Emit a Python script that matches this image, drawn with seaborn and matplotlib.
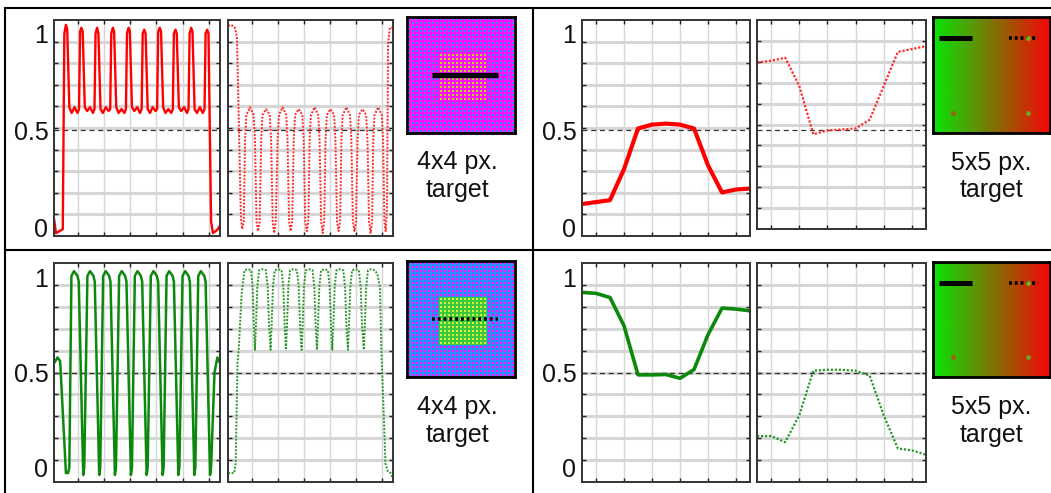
import numpy as np
import seaborn as sns
import matplotlib.pyplot as plt
from matplotlib.lines import Line2D
from matplotlib.colors import to_rgb

sns.set_style("white")
plt.rcParams["font.family"] = ["Liberation Sans", "DejaVu Sans"]

# ---- 4x4 px target, sampled along the line (x = sample position) ----
# top-left, solid sampling line (red)
tl_solid_x = [1.0, 1.7, 3.0, 4.3,
              4.9, 5.5, 6.0, 6.8, 7.7, 8.8, 9.9, 10.5,
              10.9, 11.4, 11.9, 12.7, 13.6, 14.7, 15.8, 16.4,
              16.8, 17.4, 17.9, 18.7, 19.6, 20.7, 21.8, 22.4,
              22.8, 23.4, 23.9, 24.7, 25.6, 26.7, 27.8, 28.4,
              28.8, 29.4, 29.9, 30.7, 31.6, 32.7, 33.8, 34.4,
              34.8, 35.4, 35.9, 36.7, 37.6, 38.6, 39.7, 40.3,
              40.7, 41.3, 41.8, 42.6, 43.5, 44.6, 45.7, 46.3,
              46.7, 47.3, 47.8, 48.6, 49.5, 50.6, 51.7, 52.3,
              52.7, 53.3, 53.8, 54.6, 55.5, 56.6, 57.7, 58.4,
              58.8, 59.4, 59.9, 60.9, 61.6, 62.6, 63.5, 64.3]
tl_solid_y = [0.04, -0.03, -0.02, -0.01,
              1.00, 1.045, 1.02, 0.62, 0.59, 0.62, 0.59, 0.61,
              1.01, 1.03, 1.01, 0.62, 0.60, 0.62, 0.59, 0.61,
              1.00, 1.03, 1.00, 0.61, 0.59, 0.62, 0.60, 0.61,
              1.00, 1.03, 1.01, 0.62, 0.59, 0.61, 0.59, 0.61,
              1.00, 1.03, 1.01, 0.62, 0.60, 0.62, 0.59, 0.61,
              1.00, 1.02, 1.00, 0.61, 0.59, 0.62, 0.60, 0.61,
              1.01, 1.03, 1.01, 0.62, 0.59, 0.61, 0.59, 0.61,
              1.00, 1.02, 1.00, 0.62, 0.60, 0.62, 0.59, 0.61,
              1.00, 1.03, 1.01, 0.61, 0.59, 0.62, 0.59, 0.61,
              1.00, 1.02, 1.00, 0.03, -0.03, -0.02, -0.01, 0.01]

# top-left, dotted sampling line (red)
tl_dot_x = [1.0, 2.2, 3.6, 4.4, 5.9, 6.4, 7.0,
            7.5, 8.0, 9.4, 10.8, 11.3, 11.9, 12.5, 13.1,
            13.7, 14.2, 15.6, 17.0, 17.5, 18.1, 18.7, 19.3,
            20.0, 20.5, 21.9, 23.3, 23.8, 24.4, 25.0, 25.6,
            26.2, 26.7, 28.1, 29.5, 30.0, 30.6, 31.2, 31.8,
            32.3, 32.8, 34.2, 35.6, 36.1, 36.7, 37.3, 37.9,
            38.4, 38.9, 40.3, 41.7, 42.2, 42.8, 43.4, 44.0,
            44.5, 45.0, 46.4, 47.8, 48.3, 48.9, 49.5, 50.1,
            50.7, 51.2, 52.6, 54.0, 54.5, 55.1, 55.7, 56.3,
            56.7, 57.2, 58.6, 60.0, 60.5, 61.0, 61.5, 62.0, 62.4, 63.1, 64.3]
tl_dot_y = [1.04, 1.045, 1.03, 0.98, 0.05, -0.01, 0.03,
            0.45, 0.58, 0.62, 0.58, 0.45, 0.03, -0.02, 0.03,
            0.45, 0.58, 0.61, 0.58, 0.45, 0.03, -0.03, 0.03,
            0.45, 0.58, 0.62, 0.58, 0.45, 0.03, -0.02, 0.03,
            0.45, 0.58, 0.61, 0.58, 0.45, 0.03, -0.02, 0.03,
            0.45, 0.58, 0.62, 0.58, 0.45, 0.03, -0.03, 0.03,
            0.45, 0.58, 0.61, 0.58, 0.45, 0.03, -0.02, 0.03,
            0.45, 0.58, 0.62, 0.58, 0.45, 0.03, -0.02, 0.03,
            0.45, 0.58, 0.61, 0.58, 0.45, 0.03, -0.03, 0.03,
            0.45, 0.58, 0.62, 0.58, 0.45, 0.03, -0.02, 0.10, 0.95, 1.03, 1.03]

# bottom-left, solid sampling line (green)
bl_solid_x = [1.0, 2.3, 3.3, 5.5, 6.3, 6.8,
              7.6, 8.6, 9.9, 10.4, 12.1, 12.5,
              13.7, 14.7, 16.0, 16.5, 18.2, 18.6,
              19.7, 20.7, 22.0, 22.5, 24.2, 24.6,
              25.8, 26.8, 28.1, 28.6, 30.3, 30.7,
              31.8, 32.8, 34.1, 34.6, 36.3, 36.7,
              37.9, 38.9, 40.2, 40.7, 42.4, 42.8,
              43.9, 44.9, 46.2, 46.7, 48.4, 48.8,
              50.0, 51.0, 52.3, 52.8, 54.5, 54.9,
              56.0, 57.0, 58.3, 58.8, 60.5, 60.9,
              62.2, 63.3, 64.3]
bl_solid_y = [0.55, 0.58, 0.56, -0.03, -0.03, 0.0,
              1.01, 1.035, 1.01, 0.98, -0.04, 0.0,
              1.01, 1.035, 1.01, 0.98, -0.04, 0.0,
              1.01, 1.035, 1.01, 0.98, -0.04, 0.0,
              1.01, 1.035, 1.01, 0.98, -0.04, 0.0,
              1.01, 1.035, 1.01, 0.98, -0.04, 0.0,
              1.01, 1.035, 1.01, 0.98, -0.04, 0.0,
              1.01, 1.035, 1.01, 0.98, -0.04, 0.0,
              1.01, 1.035, 1.01, 0.98, -0.04, 0.0,
              1.01, 1.035, 1.01, 0.98, -0.04, 0.0,
              0.50, 0.58, 0.55]

# bottom-left, dotted sampling line (green)
bl_dot_x = [1.0, 3.3, 3.9, 4.6, 5.1, 6.2, 7.3, 8.6, 9.8, 10.4, 10.9, 11.3,
            11.7, 12.2, 12.9, 14.2, 15.5, 16.2, 16.7, 17.3,
            17.7, 18.2, 18.9, 20.2, 21.5, 22.2, 22.7, 23.2,
            23.6, 24.1, 24.8, 26.1, 27.4, 28.1, 28.6, 29.2,
            29.6, 30.1, 30.8, 32.1, 33.4, 34.1, 34.6, 35.1,
            35.5, 36.0, 36.7, 38.0, 39.3, 40.0, 40.5, 41.0,
            41.4, 41.9, 42.6, 43.9, 45.2, 45.9, 46.4, 47.0,
            47.4, 47.9, 48.6, 49.9, 51.2, 51.9, 52.4, 53.1,
            53.5, 54.0, 54.7, 56.0, 57.3, 58.3, 59.3, 59.8, 60.7, 61.4, 62.3, 63.4, 64.3]
bl_dot_y = [-0.03, -0.03, 0.02, 0.55, 0.63, 0.92, 1.04, 1.045, 1.04, 0.95, 0.75, 0.62,
            0.75, 0.95, 1.04, 1.045, 1.04, 0.95, 0.75, 0.62,
            0.75, 0.95, 1.04, 1.045, 1.04, 0.95, 0.75, 0.62,
            0.75, 0.95, 1.04, 1.045, 1.04, 0.95, 0.75, 0.62,
            0.75, 0.95, 1.04, 1.045, 1.04, 0.95, 0.75, 0.62,
            0.75, 0.95, 1.04, 1.045, 1.04, 0.95, 0.75, 0.62,
            0.75, 0.95, 1.04, 1.045, 1.04, 0.95, 0.75, 0.62,
            0.75, 0.95, 1.04, 1.045, 1.04, 0.95, 0.75, 0.62,
            0.75, 0.95, 1.04, 1.045, 1.04, 1.02, 0.95, 0.62, 0.30, 0.02, -0.02, -0.03, -0.06]

# ---- 5x5 px target, 13 samples along the line ----
samples_5px = list(range(1, 14))
tr_solid = [0.12, 0.13, 0.14, 0.30, 0.51, 0.53, 0.535, 0.53, 0.51, 0.32, 0.18, 0.195, 0.20]
tr_dot = [0.85, 0.86, 0.875, 0.73, 0.48, 0.50, 0.505, 0.51, 0.555, 0.73, 0.905, 0.92, 0.935]
br_solid = [0.923, 0.918, 0.896, 0.747, 0.488, 0.488, 0.49, 0.47, 0.516, 0.70, 0.84, 0.835, 0.826]
br_dot = [0.165, 0.165, 0.133, 0.274, 0.51, 0.515, 0.515, 0.51, 0.484, 0.274, 0.10, 0.09, 0.067]

# target images: pixel grid (cells of 4x4 screen px) and sampling lines in cell units
grid_cols, grid_rows = 27, 29
target_cols, target_rows = (8, 20), (9, 21)
line_4px_x = [6.3, 22.7]
line_4px_row = 14.5
# gradient target (fractions of the image)
line_5px_solid = [0.05, 0.33]
line_5px_dot = [0.65, 0.90]
line_5px_row = 0.18
dots_5px_x = [0.17, 0.81, 0.81]
dots_5px_y = [0.83, 0.83, 0.18]
dots_5px_col = ["#a0601a", "#78a020", "#78b020"]

W, H = 1051, 493
fig = plt.figure(figsize=(W / 100, H / 100), dpi=100)


def box(x0, y0, x1, y1):
    return [x0 / W, 1 - y1 / H, (x1 - x0) / W, (y1 - y0) / H]


def style_profile(ax, xlim, xgrid, ylim, labels):
    ax.set_xlim(xlim)
    ax.set_ylim(ylim)
    ax.set_xticks(xgrid, minor=True)
    ax.set_xticks([])
    step = (ylim[1] - ylim[0]) / 10
    ax.set_yticks([ylim[0] + step * k for k in range(1, 10)], minor=True)
    if labels:
        ax.set_yticks([0, 0.5, 1])
        ax.set_yticklabels(["0", "0.5", "1"])
    else:
        ax.set_yticks([])
    ax.set_axisbelow(True)
    ax.grid(which="minor", axis="y", color="#d6d6d6", lw=2.2)
    ax.grid(which="minor", axis="x", color="#d6d6d6", lw=1.0)
    ax.tick_params(which="minor", direction="in", length=3, width=1, color="#222222",
                   top=True, right=True, bottom=True, left=True)
    ax.tick_params(which="major", length=0, labelsize=18, pad=4, colors="#111111")
    ax.axhline(0.5, color="#333333", lw=0.9, ls=(0, (4, 3)), zorder=1)
    for s in ax.spines.values():
        s.set_color("#333333")
        s.set_linewidth(1.4)
    ax.set_xlabel("")
    ax.set_ylabel("")


def style_image(ax):
    ax.set_xticks([])
    ax.set_yticks([])
    for s in ax.spines.values():
        s.set_color("black")
        s.set_linewidth(2.0)
        s.set_zorder(5)


def pixel_grid(border, inner, t_border, t_inner):
    # one array pixel per screen pixel: 2-px border + 2x2 inner square per cell
    sub = 4
    rr, cc = np.indices((grid_rows * sub, grid_cols * sub))
    in_cell = ((rr % sub) >= 1) & ((rr % sub) <= 2) & ((cc % sub) >= 1) & ((cc % sub) <= 2)
    cr, ccell = rr // sub, cc // sub
    target = ((cr >= target_rows[0]) & (cr < target_rows[1]) &
              (ccell >= target_cols[0]) & (ccell < target_cols[1]))
    img = np.zeros(rr.shape + (3,))
    img[:] = to_rgb(border)
    img[in_cell] = to_rgb(inner)
    img[target & ~in_cell] = to_rgb(t_border)
    img[target & in_cell] = to_rgb(t_inner)
    return img


def draw_4px(ax, img, dotted):
    ax.imshow(img, extent=(0, grid_cols, grid_rows, 0), aspect="auto", interpolation="nearest")
    ls = (0, (0.8, 0.8)) if dotted else "-"
    ax.plot(line_4px_x, [line_4px_row] * 2, color="black", lw=3.8 if not dotted else 2.6,
            ls=ls, solid_capstyle="butt", dash_capstyle="butt")
    ax.set_xlim(0, grid_cols)
    ax.set_ylim(grid_rows, 0)
    style_image(ax)


def draw_5px(ax):
    t = np.linspace(0, 1, 256)
    left, right = np.array(to_rgb("#05e605")), np.array(to_rgb("#f50505"))
    grad = (1 - t)[:, None] * left + t[:, None] * right
    ax.imshow(np.tile(grad[None, :, :], (8, 1, 1)), extent=(0, 1, 1, 0), aspect="auto")
    ax.plot(line_5px_solid, [line_5px_row] * 2, color="black", lw=3.6, solid_capstyle="butt")
    ax.plot(line_5px_dot, [line_5px_row] * 2, color="black", lw=2.6, ls=(0, (0.8, 0.8)))
    for x, y, c in zip(dots_5px_x, dots_5px_y, dots_5px_col):
        ax.plot(x, y, "o", color=c, ms=3.5, mew=0)
    ax.set_xlim(0, 1)
    ax.set_ylim(1, 0)
    style_image(ax)


red, red_dot = "#ff0000", "#ff2a2a"
green, green_dot = "#0c880c", "#2a962a"
dotted = (0, (1, 0.8))
left_xlim, left_grid = (0.95, 64.3), [10, 20, 30, 40, 50, 60]
right_xlim, right_grid = (1, 13), [2, 4, 6, 8, 10, 12]
top_ylim, bot_ylim = (-0.045, 1.07), (-0.077, 1.078)

# top-left panel
ax = fig.add_axes(box(54, 20, 220, 236))
sns.lineplot(x=tl_solid_x, y=tl_solid_y, ax=ax, color=red, lw=1.7, sort=False, estimator=None)
style_profile(ax, left_xlim, left_grid, top_ylim, True)
ax = fig.add_axes(box(228, 20, 393, 236))
sns.lineplot(x=tl_dot_x, y=tl_dot_y, ax=ax, color=red_dot, lw=1.4, ls=dotted, sort=False, estimator=None)
style_profile(ax, left_xlim, left_grid, top_ylim, False)
ax = fig.add_axes(box(407, 17, 515, 133))
draw_4px(ax, pixel_grid("#ff10ff", "#2f8cff", "#ff10ff", "#b0dc10"), False)

# top-right panel
ax = fig.add_axes(box(582, 20, 750, 236))
sns.lineplot(x=samples_5px, y=tr_solid, ax=ax, color=red, lw=3.0, sort=False, estimator=None)
style_profile(ax, right_xlim, right_grid, top_ylim, True)
ax = fig.add_axes(box(757, 20, 926, 229))
sns.lineplot(x=samples_5px, y=tr_dot, ax=ax, color=red_dot, lw=1.6, ls=dotted, sort=False, estimator=None)
style_profile(ax, right_xlim, right_grid, (-0.009, 1.07), False)
ax = fig.add_axes(box(933, 17, 1050, 133))
draw_5px(ax)

# bottom-left panel
ax = fig.add_axes(box(54, 263, 220, 482))
sns.lineplot(x=bl_solid_x, y=bl_solid_y, ax=ax, color=green, lw=1.8, sort=False, estimator=None)
style_profile(ax, left_xlim, left_grid, bot_ylim, True)
ax = fig.add_axes(box(228, 263, 393, 482))
sns.lineplot(x=bl_dot_x, y=bl_dot_y, ax=ax, color=green_dot, lw=1.4, ls=dotted, sort=False, estimator=None)
style_profile(ax, left_xlim, left_grid, bot_ylim, False)
ax = fig.add_axes(box(407, 261, 515, 377))
draw_4px(ax, pixel_grid("#2f8cff", "#ff10ff", "#3cc83c", "#d2f53c"), True)

# bottom-right panel
ax = fig.add_axes(box(582, 263, 750, 482))
sns.lineplot(x=samples_5px, y=br_solid, ax=ax, color=green, lw=2.6, sort=False, estimator=None)
style_profile(ax, right_xlim, right_grid, bot_ylim, True)
ax = fig.add_axes(box(757, 263, 926, 482))
sns.lineplot(x=samples_5px, y=br_dot, ax=ax, color=green_dot, lw=1.6, ls=dotted, sort=False, estimator=None)
style_profile(ax, right_xlim, right_grid, bot_ylim, False)
ax = fig.add_axes(box(933, 262, 1050, 377))
draw_5px(ax)

# captions under the target images
for cx, cy, label in [(457, 162, "4x4 px."), (457, 190, "target"),
                      (991, 163, "5x5 px."), (991, 190, "target"),
                      (457, 407, "4x4 px."), (457, 435, "target"),
                      (991, 407, "5x5 px."), (991, 435, "target")]:
    fig.text(cx / W, 1 - cy / H, label, ha="center", va="center", fontsize=18, color="#111111")

# panel frame lines
for (x0, y0, x1, y1) in [(5, 8, 1051, 8), (5, 8, 5, 493), (533, 8, 533, 493), (5, 250, 1051, 250)]:
    fig.add_artist(Line2D([x0 / W, x1 / W], [1 - y0 / H, 1 - y1 / H], transform=fig.transFigure,
                          color="black", lw=1.5))

fig.savefig("out.png", dpi=100)
